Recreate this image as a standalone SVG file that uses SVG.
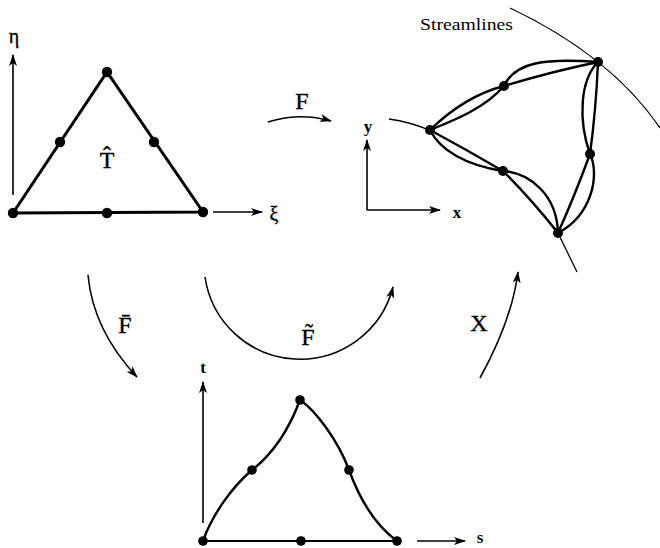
<svg xmlns="http://www.w3.org/2000/svg" width="660" height="548" viewBox="0 0 660 548">
<defs>
<marker id="ah" viewBox="0 0 12 8" markerWidth="12" markerHeight="8" refX="11" refY="4" orient="auto" markerUnits="userSpaceOnUse">
<path d="M0,0 L12,4 L0,8 L3,4 z" fill="#000"/>
</marker>
<style>
.lbl{font-family:"Liberation Serif","DejaVu Serif",serif;fill:#000;stroke:#000;stroke-width:0.35;text-anchor:middle}
.ax{font-family:"Liberation Serif","DejaVu Serif",serif;font-weight:bold;font-size:17px;fill:#000;text-anchor:middle}
.axis{stroke:#000;stroke-width:1.6;fill:none}
.tri{stroke:#000;stroke-width:3;fill:none}
.cur{stroke:#000;stroke-width:2.4;fill:none;stroke-linecap:round}
.str{stroke:#000;stroke-width:1.3;fill:none}
.map{stroke:#000;stroke-width:1.6;fill:none}
.dot{fill:#000}
</style>
</defs>
<rect width="660" height="548" fill="#fff"/>

<g id="reference-element">
<path class="axis" d="M13,195 L13,55" marker-end="url(#ah)"/>
<path class="axis" d="M213,212 L262,212" marker-end="url(#ah)"/>
<text class="lbl" x="14" y="43" font-size="20">η</text>
<text class="lbl" x="274" y="221" font-size="20">ξ</text>
<path class="tri" d="M13,213 L107,72 L203,212 Z"/>
<circle class="dot" cx="13" cy="213" r="5.2"/>
<circle class="dot" cx="107" cy="72" r="5.2"/>
<circle class="dot" cx="203" cy="212" r="5.2"/>
<circle class="dot" cx="60" cy="142" r="5.2"/>
<circle class="dot" cx="154" cy="142" r="5.2"/>
<circle class="dot" cx="107" cy="213" r="5.2"/>
<text class="lbl" x="107" y="168" font-size="24">T̂</text>
</g>

<g id="physical-element">
<text x="420" y="30" font-family="'Liberation Serif','DejaVu Serif',serif" font-size="17" textLength="93" lengthAdjust="spacingAndGlyphs">Streamlines</text>
<path class="str" d="M510,8 Q611,56 660,128"/>
<path class="str" d="M389,119 Q410,122 429,130"/>
<path class="str" d="M558,233 L577,272"/>
<path class="axis" d="M367,210 L367,140" marker-end="url(#ah)"/>
<path class="axis" d="M367,210 L440,210" marker-end="url(#ah)"/>
<text class="ax" x="368" y="132">y</text>
<text class="ax" x="457" y="218">x</text>
<!-- straight-ish edges -->
<path class="cur" d="M430,130 Q465,96 504,86"/>
<path class="cur" d="M504,86 Q550,72 598,62"/>
<path class="cur" d="M598,62 Q596,110 590,154"/>
<path class="cur" d="M590,154 Q575,195 558,233"/>
<path class="cur" d="M558,233 Q532,200 503,171"/>
<path class="cur" d="M503,171 Q467,150 430,130"/>
<!-- curved edges -->
<path class="cur" d="M430,130 C455,120 485,108 504,86"/>
<path class="cur" d="M504,86 C515,62 545,58 598,62"/>
<path class="cur" d="M598,62 C580,80 578,120 590,154"/>
<path class="cur" d="M590,154 C600,175 592,215 558,233"/>
<path class="cur" d="M503,171 C530,173 557,195 558,233"/>
<path class="cur" d="M430,130 C440,150 465,165 503,171"/>
<circle class="dot" cx="598" cy="62" r="5"/>
<circle class="dot" cx="430" cy="130" r="5"/>
<circle class="dot" cx="504" cy="86" r="5"/>
<circle class="dot" cx="503" cy="171" r="5"/>
<circle class="dot" cx="590" cy="154" r="5"/>
<circle class="dot" cx="558" cy="233" r="5"/>
</g>

<g id="intermediate-element">
<path class="axis" d="M203,523 L203,382" marker-end="url(#ah)"/>
<path class="axis" d="M417,541 L465,541" marker-end="url(#ah)"/>
<text class="ax" x="203" y="373">t</text>
<text class="ax" x="480" y="543">s</text>
<path stroke="#000" stroke-width="2" fill="none" d="M203,541 L397,541"/>
<path class="cur" d="M203,541 C212,515 232,487 252,470 C265,460 285,440 300,400"/>
<path class="cur" d="M300,400 C315,410 338,440 349,470 C360,500 375,525 397,541"/>
<circle class="dot" cx="203" cy="541" r="4.8"/>
<circle class="dot" cx="300" cy="400" r="4.8"/>
<circle class="dot" cx="397" cy="541" r="4.8"/>
<circle class="dot" cx="252" cy="470" r="4.8"/>
<circle class="dot" cx="349" cy="470" r="4.8"/>
<circle class="dot" cx="301" cy="541" r="4.8"/>
</g>

<g id="connectors">
<path class="map" d="M268,122 Q300,112 331,121" marker-end="url(#ah)"/>
<path class="map" d="M88,275 Q93,330 137,377" marker-end="url(#ah)"/>
<path class="map" d="M205,277 A96,96 0 0,0 393,287" marker-end="url(#ah)"/>
<path class="map" d="M480,378 Q512,320 518,272" marker-end="url(#ah)"/>
<text class="lbl" x="302" y="109" font-size="24">F</text>
<text class="lbl" x="125" y="333" font-size="24">F̄</text>
<text class="lbl" x="308" y="345" font-size="24">F̃</text>
<text class="lbl" x="479" y="331" font-size="24">X</text>
</g>
</svg>
